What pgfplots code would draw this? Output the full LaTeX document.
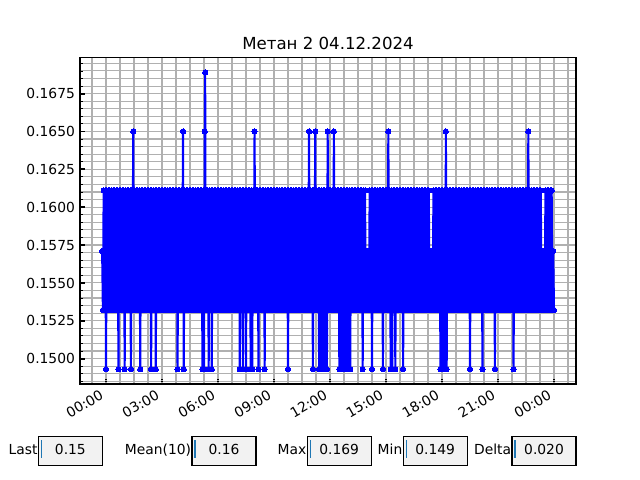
\documentclass[border=0pt]{standalone}
\usepackage{fontspec}
\setmainfont{DejaVu Sans}
\usepackage{pgfplots}
\pgfplotsset{compat=1.18}
\definecolor{gridgray}{RGB}{176,176,176}
\definecolor{boxgray}{RGB}{242,242,242}
\definecolor{cursorblue}{RGB}{31,119,180}
\begin{document}
\begin{tikzpicture}
\path[use as bounding box] (0,0) rectangle (6.4in,4.8in);
% x is measured in steps of 2.5 minutes from 00:00 (72 steps = 3 hours)
\begin{axis}[
  at={(0.8in,0.96in)}, anchor=south west,
  scale only axis, width=4.96in, height=3.264in,
  xmin=-33.44, xmax=604.28, ymin=0.14832, ymax=0.16988,
  title={Метан 2 04.12.2024},
  every axis title/.style={at={(0.5,1)}, anchor=base, yshift=6pt, font=\fontsize{12}{14}\selectfont},
  xtick={0,72,144,216,288,360,432,504,576},
  xticklabels={00:00,03:00,06:00,09:00,12:00,15:00,18:00,21:00,00:00},
  minor xtick={-18,0,18,36,54,72,90,108,126,144,162,180,198,216,234,252,270,288,306,324,342,360,378,396,414,432,450,468,486,504,522,540,558,576,594},
  ytick={0.15,0.1525,0.155,0.1575,0.16,0.1625,0.165,0.1675},
  yticklabels={0.1500,0.1525,0.1550,0.1575,0.1600,0.1625,0.1650,0.1675},
  minor ytick={0.1485,0.1490,0.1495,0.1500,0.1505,0.1510,0.1515,0.1520,0.1525,0.1530,0.1535,0.1540,0.1545,0.1550,0.1555,0.1560,0.1565,0.1570,0.1575,0.1580,0.1585,0.1590,0.1595,0.1600,0.1605,0.1610,0.1615,0.1620,0.1625,0.1630,0.1635,0.1640,0.1645,0.1650,0.1655,0.1660,0.1665,0.1670,0.1675,0.1680,0.1685,0.1690,0.1695},
  grid=both,
  major grid style={gridgray, line width=0.8pt},
  minor grid style={gridgray, line width=0.8pt},
  tick align=inside, tick pos=left,
  major tick length=3.5pt, minor tick length=2pt,
  major x tick style={black, line width=1.4pt, dash pattern=on 0.8pt off 0.5pt},
  minor x tick style={draw=none},
  major y tick style={black, line width=1.4pt},
  minor y tick style={black, line width=0.6pt},
  axis line style={black, line width=0.9pt},
  xticklabel style={inner sep=0pt, text height=7.6pt, text depth=2.3pt, xshift=-4.95pt, yshift=-3.5pt, rotate=30, anchor=north east, font=\fontsize{10}{12}\selectfont},
  yticklabel style={inner sep=0pt, text height=7.6pt, text depth=0pt, anchor=east, xshift=-3.5pt, font=\fontsize{10}{12}\selectfont},
]
\addplot[blue, line width=1.5pt, mark=*, mark size=1.9pt, mark options={solid, fill=blue, draw=blue, line width=0pt}] coordinates {
(-5,0.1571) (-4,0.1532) (-3,0.1611) (-2,0.1532) (-1,0.1611)
(0,0.1493) (1,0.1611) (2,0.1532) (3,0.1611) (4,0.1532) (5,0.1611) (6,0.1532) (7,0.1611) (8,0.1532) (9,0.1611)
(10,0.1532) (11,0.1611) (12,0.1532) (13,0.1611) (14,0.1532) (15,0.1611) (16,0.1493) (17,0.1611) (18,0.1532) (19,0.1611)
(20,0.1532) (21,0.1611) (22,0.1532) (23,0.1611) (24,0.1493) (25,0.1611) (26,0.1532) (27,0.1611) (28,0.1532) (29,0.1611)
(30,0.1532) (31,0.1611) (32,0.1493) (33,0.1611) (34,0.1532) (35,0.1650) (36,0.1532) (37,0.1611) (38,0.1532) (39,0.1611)
(40,0.1532) (41,0.1611) (42,0.1532) (43,0.1611) (44,0.1493) (45,0.1611) (46,0.1532) (47,0.1611) (48,0.1532) (49,0.1611)
(50,0.1532) (51,0.1611) (52,0.1532) (53,0.1611) (54,0.1532) (55,0.1611) (56,0.1532) (57,0.1611) (58,0.1493) (59,0.1611)
(60,0.1532) (61,0.1611) (62,0.1532) (63,0.1611) (64,0.1493) (65,0.1611) (66,0.1532) (67,0.1611) (68,0.1532) (69,0.1611)
(70,0.1532) (71,0.1611) (72,0.1532) (73,0.1611) (74,0.1532) (75,0.1611) (76,0.1532) (77,0.1611) (78,0.1532) (79,0.1611)
(80,0.1532) (81,0.1611) (82,0.1532) (83,0.1611) (84,0.1532) (85,0.1611) (86,0.1532) (87,0.1611) (88,0.1532) (89,0.1611)
(90,0.1532) (91,0.1611) (92,0.1493) (93,0.1611) (94,0.1532) (95,0.1611) (96,0.1532) (97,0.1611) (98,0.1532) (99,0.1650)
(100,0.1493) (101,0.1611) (102,0.1532) (103,0.1611) (104,0.1532) (105,0.1611) (106,0.1532) (107,0.1611) (108,0.1532) (109,0.1611)
(110,0.1532) (111,0.1611) (112,0.1532) (113,0.1611) (114,0.1532) (115,0.1611) (116,0.1532) (117,0.1611) (118,0.1532) (119,0.1611)
(120,0.1532) (121,0.1611) (122,0.1532) (123,0.1611) (124,0.1493) (125,0.1611) (126,0.1493) (127,0.1650) (127.5,0.1689) (128,0.1532) (129,0.1611)
(130,0.1532) (131,0.1611) (132,0.1493) (133,0.1611) (134,0.1532) (135,0.1611) (136,0.1493) (137,0.1611) (138,0.1532) (139,0.1611)
(140,0.1532) (141,0.1611) (142,0.1532) (143,0.1611) (144,0.1532) (145,0.1611) (146,0.1532) (147,0.1611) (148,0.1532) (149,0.1611)
(150,0.1532) (151,0.1611) (152,0.1532) (153,0.1611) (154,0.1532) (155,0.1611) (156,0.1532) (157,0.1611) (158,0.1532) (159,0.1611)
(160,0.1532) (161,0.1611) (162,0.1532) (163,0.1611) (164,0.1532) (165,0.1611) (166,0.1532) (167,0.1611) (168,0.1532) (169,0.1611)
(170,0.1532) (171,0.1611) (172,0.1493) (173,0.1611) (174,0.1532) (175,0.1611) (176,0.1493) (177,0.1611) (178,0.1532) (179,0.1611)
(180,0.1493) (181,0.1611) (182,0.1532) (183,0.1611) (184,0.1532) (185,0.1611) (186,0.1493) (187,0.1611) (188,0.1493) (189,0.1611)
(190,0.1532) (191,0.1650) (192,0.1532) (193,0.1611) (194,0.1532) (195,0.1611) (196,0.1493) (197,0.1611) (198,0.1532) (199,0.1611)
(200,0.1532) (201,0.1611) (202,0.1532) (203,0.1611) (204,0.1493) (205,0.1611) (206,0.1532) (207,0.1611) (208,0.1532) (209,0.1611)
(210,0.1532) (211,0.1611) (212,0.1532) (213,0.1611) (214,0.1532) (215,0.1611) (216,0.1532) (217,0.1611) (218,0.1532) (219,0.1611)
(220,0.1532) (221,0.1611) (222,0.1532) (223,0.1611) (224,0.1532) (225,0.1611) (226,0.1532) (227,0.1611) (228,0.1532) (229,0.1611)
(230,0.1532) (231,0.1611) (232,0.1532) (233,0.1611) (234,0.1493) (235,0.1611) (236,0.1532) (237,0.1611) (238,0.1532) (239,0.1611)
(240,0.1532) (241,0.1611) (242,0.1532) (243,0.1611) (244,0.1532) (245,0.1611) (246,0.1532) (247,0.1611) (248,0.1532) (249,0.1611)
(250,0.1532) (251,0.1611) (252,0.1532) (253,0.1611) (254,0.1532) (255,0.1611) (256,0.1532) (257,0.1611) (258,0.1532) (259,0.1611)
(260,0.1532) (261,0.1650) (262,0.1532) (263,0.1611) (264,0.1532) (265,0.1611) (266,0.1493) (267,0.1611) (268,0.1532) (269,0.1650)
(270,0.1532) (271,0.1611) (272,0.1532) (273,0.1611) (274,0.1493) (275,0.1611) (276,0.1493) (277,0.1611) (278,0.1493) (279,0.1611)
(280,0.1493) (281,0.1611) (282,0.1493) (283,0.1611) (284,0.1493) (285,0.1650) (286,0.1532) (287,0.1611) (288,0.1532) (289,0.1611)
(290,0.1532) (291,0.1611) (292,0.1532) (293,0.1650) (294,0.1532) (295,0.1611) (296,0.1532) (297,0.1611) (298,0.1532) (299,0.1611)
(300,0.1493) (301,0.1611) (302,0.1493) (303,0.1611) (304,0.1493) (305,0.1611) (306,0.1493) (307,0.1611) (308,0.1493) (309,0.1611)
(310,0.1493) (311,0.1611) (312,0.1493) (313,0.1611) (314,0.1493) (315,0.1611) (316,0.1532) (317,0.1611) (318,0.1532) (319,0.1611)
(320,0.1532) (321,0.1611) (322,0.1532) (323,0.1611) (324,0.1532) (325,0.1611) (326,0.1532) (327,0.1611) (328,0.1532) (329,0.1611)
(330,0.1493) (331,0.1611) (332,0.1532) (333,0.1611) (334,0.1532) (335,0.1571) (336,0.1532) (337,0.1571) (338,0.1532) (339,0.1611)
(340,0.1532) (341,0.1611) (342,0.1493) (343,0.1611) (344,0.1532) (345,0.1611) (346,0.1532) (347,0.1611) (348,0.1532) (349,0.1611)
(350,0.1532) (351,0.1611) (352,0.1532) (353,0.1611) (354,0.1532) (355,0.1611) (356,0.1493) (357,0.1611) (358,0.1532) (359,0.1611)
(360,0.1532) (361,0.1611) (362,0.1532) (363,0.1650) (364,0.1532) (365,0.1611) (366,0.1493) (367,0.1611) (368,0.1493) (369,0.1611)
(370,0.1532) (371,0.1611) (372,0.1493) (373,0.1611) (374,0.1532) (375,0.1611) (376,0.1532) (377,0.1611) (378,0.1532) (379,0.1611)
(380,0.1532) (381,0.1611) (382,0.1493) (383,0.1611) (384,0.1532) (385,0.1611) (386,0.1532) (387,0.1611) (388,0.1532) (389,0.1611)
(390,0.1532) (391,0.1611) (392,0.1532) (393,0.1611) (394,0.1532) (395,0.1611) (396,0.1532) (397,0.1611) (398,0.1532) (399,0.1611)
(400,0.1532) (401,0.1611) (402,0.1532) (403,0.1611) (404,0.1532) (405,0.1611) (406,0.1532) (407,0.1611) (408,0.1532) (409,0.1611)
(410,0.1532) (411,0.1611) (412,0.1532) (413,0.1611) (414,0.1532) (415,0.1611) (416,0.1532) (417,0.1571) (418,0.1532) (419,0.1571)
(420,0.1532) (421,0.1611) (422,0.1532) (423,0.1611) (424,0.1532) (425,0.1611) (426,0.1532) (427,0.1611) (428,0.1532) (429,0.1611)
(430,0.1493) (431,0.1611) (432,0.1493) (433,0.1611) (434,0.1493) (435,0.1611) (436,0.1493) (437,0.1650) (438,0.1493) (439,0.1611)
(440,0.1532) (441,0.1611) (442,0.1532) (443,0.1611) (444,0.1532) (445,0.1611) (446,0.1532) (447,0.1611) (448,0.1532) (449,0.1611)
(450,0.1532) (451,0.1611) (452,0.1532) (453,0.1611) (454,0.1532) (455,0.1611) (456,0.1532) (457,0.1611) (458,0.1532) (459,0.1611)
(460,0.1532) (461,0.1611) (462,0.1532) (463,0.1611) (464,0.1532) (465,0.1611) (466,0.1532) (467,0.1611) (468,0.1493) (469,0.1611)
(470,0.1532) (471,0.1611) (472,0.1532) (473,0.1611) (474,0.1532) (475,0.1611) (476,0.1532) (477,0.1611) (478,0.1532) (479,0.1611)
(480,0.1532) (481,0.1611) (482,0.1532) (483,0.1611) (484,0.1493) (485,0.1611) (486,0.1532) (487,0.1611) (488,0.1532) (489,0.1611)
(490,0.1532) (491,0.1611) (492,0.1532) (493,0.1611) (494,0.1532) (495,0.1611) (496,0.1532) (497,0.1611) (498,0.1532) (499,0.1611)
(500,0.1493) (501,0.1611) (502,0.1532) (503,0.1611) (504,0.1532) (505,0.1611) (506,0.1532) (507,0.1611) (508,0.1532) (509,0.1611)
(510,0.1532) (511,0.1611) (512,0.1532) (513,0.1611) (514,0.1532) (515,0.1611) (516,0.1532) (517,0.1611) (518,0.1532) (519,0.1611)
(520,0.1532) (521,0.1611) (522,0.1532) (523,0.1611) (524,0.1493) (525,0.1611) (526,0.1532) (527,0.1611) (528,0.1532) (529,0.1611)
(530,0.1532) (531,0.1611) (532,0.1532) (533,0.1611) (534,0.1532) (535,0.1611) (536,0.1532) (537,0.1611) (538,0.1532) (539,0.1611)
(540,0.1532) (541,0.1611) (542,0.1532) (543,0.1650) (544,0.1532) (545,0.1611) (546,0.1532) (547,0.1611) (548,0.1532) (549,0.1611)
(550,0.1532) (551,0.1611) (552,0.1532) (553,0.1611) (554,0.1532) (555,0.1611) (556,0.1532) (557,0.1611) (558,0.1532) (559,0.1611)
(560,0.1532) (561,0.1571) (562,0.1532) (563,0.1571) (564,0.1532) (565,0.1611) (566,0.1532) (567,0.1611) (568,0.1532) (569,0.1611)
(570,0.1532) (571,0.1611) (572,0.1532) (573,0.1611) (574,0.1532) (575,0.1571) (576,0.1532)
};
\end{axis}
\tikzset{lbl/.style={inner sep=0pt, text height=7.6pt, text depth=2.3pt, font=\fontsize{10}{12}\selectfont}}
% text boxes
\foreach \bx/\lab/\val in {0.384/Last/0.15, 1.92/Mean(10)/0.16, 3.072/Max/0.169, 4.032/Min/0.149, 5.12/Delta/0.020}{
  \draw[black, line width=0.8pt, fill=boxgray] (\bx in,0.144in) rectangle ({\bx in+0.64in},0.432in);
  \draw[cursorblue, line width=1.1pt] ({\bx in+0.032in},0.22in) -- ({\bx in+0.032in},0.396in);
  \node[lbl, anchor=east] at ({\bx in-0.0064in},0.288in) {\lab};
  \node[lbl] at ({\bx in+0.32in},0.288in) {\val};
}
\end{tikzpicture}
\end{document}
